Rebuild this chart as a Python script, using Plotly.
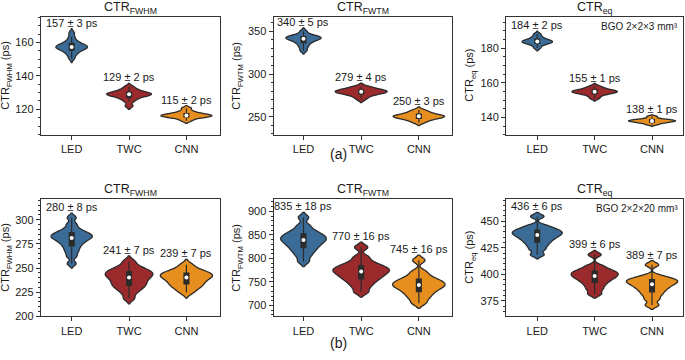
import numpy as np
import plotly.graph_objects as go

categories = ["LED", "TWC", "CNN"]

# ---- (a) BGO 2x2x3 mm3 : per-event CTR estimates (ps), read from violin shapes
fwhm_3mm_led = [150.4, 152.5, 153.8, 154.8, 155.5, 156.1, 156.6, 157.0, 157.3, 157.7, 158.1, 158.6, 159.2, 160.0, 161.2, 163.2, 165.8]
fwhm_3mm_twc = [122.0, 124.8, 126.3, 127.2, 127.9, 128.4, 128.8, 129.1, 129.4, 129.8, 130.3, 131.0, 131.9, 133.5]
fwhm_3mm_cnn = [113.2, 114.6, 115.2, 115.6, 115.9, 116.2, 116.5, 116.8, 117.2, 117.8, 118.8, 120.6]

fwtm_3mm_led = [327.4, 331.5, 334.5, 336.8, 338.5, 339.8, 340.8, 341.6, 342.3, 343.0, 343.8, 344.7, 346.0, 349.9]
fwtm_3mm_twc = [270.6, 273.8, 275.7, 277.0, 277.9, 278.6, 279.2, 279.8, 280.5, 281.3, 282.3, 283.5, 285.4]
fwtm_3mm_cnn = [243.3, 245.8, 247.3, 248.4, 249.2, 249.9, 250.5, 251.1, 251.8, 252.7, 254.0, 255.6, 257.8]

eq_3mm_led = [180.1, 181.6, 182.4, 182.9, 183.3, 183.6, 183.9, 184.2, 184.6, 185.1, 185.8, 186.8, 188.2]
eq_3mm_twc = [151.1, 152.6, 153.5, 154.0, 154.4, 154.7, 155.0, 155.3, 155.7, 156.2, 156.9, 158.0]
eq_3mm_cnn = [135.9, 136.7, 137.2, 137.5, 137.8, 138.0, 138.2, 138.5, 138.8, 139.3, 140.5]

# ---- (b) BGO 2x2x20 mm3
fwhm_20mm_led = [254.6, 262.0, 266.5, 270.0, 273.0, 275.5, 277.5, 279.2, 280.6, 281.8, 282.9, 284.0, 285.2, 286.6, 288.3, 291.0, 295.5, 302.2]
fwhm_20mm_twc = [218.6, 224.5, 228.0, 230.5, 232.5, 234.5, 236.5, 238.5, 240.3, 241.8, 243.2, 244.6, 246.0, 247.5, 249.3, 252.0, 256.9]
fwhm_20mm_cnn = [224.6, 228.5, 231.0, 233.0, 235.0, 237.0, 238.7, 240.2, 241.5, 242.7, 243.9, 245.2, 246.8, 249.0, 253.4]

fwtm_20mm_led = [793.5, 805, 813, 819, 824, 828.5, 832.5, 836, 839, 842, 845, 848, 851.5, 855.5, 861, 870, 887]
fwtm_20mm_twc = [728.7, 740, 748, 754, 759, 763, 767, 770.5, 773.5, 776.5, 779.5, 783, 787, 793, 803, 823.6]
fwtm_20mm_cnn = [705, 715, 722, 728, 733, 737, 740.5, 743.5, 746.5, 749.5, 753, 757, 763, 772, 796]

eq_20mm_led = [418.5, 423.5, 427, 429.8, 432, 434, 435.6, 437, 438.3, 439.5, 440.7, 442, 443.6, 446, 454.6]
eq_20mm_twc = [381.5, 386, 389.5, 392.3, 394.5, 396.3, 397.8, 399.2, 400.5, 401.8, 403.2, 405, 408, 418.5]
eq_20mm_cnn = [371, 376.5, 380.5, 383.5, 386, 388, 389.8, 391.3, 392.6, 393.8, 395, 396.3, 398.5, 409]

# ---- reported mean ± std (ps)
fwhm_3mm_mean = [157, 129, 115]
fwhm_3mm_std = [3, 2, 2]
fwtm_3mm_mean = [340, 279, 250]
fwtm_3mm_std = [5, 4, 3]
eq_3mm_mean = [184, 155, 138]
eq_3mm_std = [2, 1, 1]
fwhm_20mm_mean = [280, 241, 239]
fwhm_20mm_std = [8, 7, 7]
fwtm_20mm_mean = [835, 770, 745]
fwtm_20mm_std = [18, 16, 16]
eq_20mm_mean = [436, 399, 389]
eq_20mm_std = [6, 6, 7]

panel_titles = ["CTR<sub>FWHM</sub>", "CTR<sub>FWTM</sub>", "CTR<sub>eq</sub>"]
y_titles = ["CTR<sub>FWHM</sub> (ps)", "CTR<sub>FWTM</sub> (ps)", "CTR<sub>eq</sub> (ps)"]
crystal_labels = ["BGO 2×2×3 mm³", "BGO 2×2×20 mm³"]
row_labels = ["(a)", "(b)"]

# ---------------- styles / layout (pixels of a 685x360 canvas) ----------------
W, H = 685, 360
colors = ["#3b6c97", "#9b2a2d", "#e68e1e"]
edge = "#2a2a2a"
txt = "#1a1a1a"
FONT = "Liberation Sans, Arial, sans-serif"

col_px = [(40.7, 219.7), (273.5, 452.3), (506.0, 683.3)]
row_px = [(17.0, 137.0), (202.5, 321.7)]
x_ranges = [[-0.54, 2.58], [-0.52, 2.58], [-0.545, 2.545]]
y_ranges = [[104.8, 175.4], [229.0, 367.0], [130.0, 198.2],
            [200.0, 321.3], [677.0, 926.0], [360.4, 470.9]]
y_dticks = [(20, 5), (50, 10), (20, 5), (25, 5), (50, 10), (25, 5)]
ytitle_px = [6, 237, 470]

panels = [
    ([fwhm_3mm_led, fwhm_3mm_twc, fwhm_3mm_cnn], fwhm_3mm_mean, fwhm_3mm_std),
    ([fwtm_3mm_led, fwtm_3mm_twc, fwtm_3mm_cnn], fwtm_3mm_mean, fwtm_3mm_std),
    ([eq_3mm_led, eq_3mm_twc, eq_3mm_cnn], eq_3mm_mean, eq_3mm_std),
    ([fwhm_20mm_led, fwhm_20mm_twc, fwhm_20mm_cnn], fwhm_20mm_mean, fwhm_20mm_std),
    ([fwtm_20mm_led, fwtm_20mm_twc, fwtm_20mm_cnn], fwtm_20mm_mean, fwtm_20mm_std),
    ([eq_20mm_led, eq_20mm_twc, eq_20mm_cnn], eq_20mm_mean, eq_20mm_std),
]
# violin max widths (category units) and kde bandwidths, per panel
v_widths = [[0.55, 0.78, 0.89], [0.61, 0.9, 0.89], [0.53, 0.79, 0.82],
            [0.72, 0.83, 0.91], [0.79, 0.98, 0.91], [0.87, 0.82, 0.89]]
v_bw = [[1.2, 1.0, 0.8], [2.0, 2.0, 1.8], [0.8, 0.8, 0.5],
        [2.3, 2.8, 2.8], [5.5, 5.5, 5.5], [1.9, 2.0, 2.0]]
box_px_units = 0.085

fig = go.Figure()
annotations = []
layout_axes = {}

for p, (samples, means, stds) in enumerate(panels):
    r, c = divmod(p, 3)
    suffix = "" if p == 0 else str(p + 1)
    xa, ya = "x" + suffix, "y" + suffix
    x0, x1 = col_px[c]
    yt, yb = row_px[r]
    xdom = [x0 / W, x1 / W]
    ydom = [1 - yb / H, 1 - yt / H]

    medians = []
    for k, (cat, vals) in enumerate(zip(categories, samples)):
        w = v_widths[p][k]
        fig.add_trace(go.Violin(
            x=[cat] * len(vals), y=vals, xaxis=xa, yaxis=ya,
            width=w, bandwidth=v_bw[p][k], spanmode="soft", scalemode="width",
            fillcolor=colors[k], line=dict(color=edge, width=1.3), opacity=1,
            points=False, showlegend=False, hoverinfo="skip",
            box=dict(visible=True, width=box_px_units / w, fillcolor="#2b2b2b",
                     line=dict(color="#2b2b2b", width=1.2)),
            meanline=dict(visible=False),
        ))
        medians.append(float(np.median(vals)))
        top = max(vals) + 2 * v_bw[p][k]
        annotations.append(dict(
            x=cat, y=top, xref=xa, yref=ya, xanchor="center", yanchor="bottom",
            yshift=-2, showarrow=False,
            text=f"{means[k]} ± {stds[k]} ps",
            font=dict(size=11, color=txt, family=FONT)))
    fig.add_trace(go.Scatter(
        x=categories, y=medians, xaxis=xa, yaxis=ya, mode="markers",
        marker=dict(color="white", size=4), showlegend=False, hoverinfo="skip"))

    axis_common = dict(showline=True, linecolor="#333333", linewidth=1, mirror=True,
                       ticks="outside", ticklen=4, tickwidth=1, tickcolor="#333333",
                       showgrid=False, zeroline=False,
                       tickfont=dict(size=11, color=txt, family=FONT))
    layout_axes["xaxis" + suffix] = dict(
        axis_common, domain=xdom, anchor=ya, type="category",
        categoryorder="array", categoryarray=categories, range=x_ranges[c])
    dt, mdt = y_dticks[p]
    layout_axes["yaxis" + suffix] = dict(
        axis_common, domain=ydom, anchor=xa, range=y_ranges[p], dtick=dt,
        minor=dict(dtick=mdt, ticks="outside", ticklen=2, tickcolor="#333333", showgrid=False))

    # panel title
    annotations.append(dict(
        x=(xdom[0] + xdom[1]) / 2, y=ydom[1], xref="paper", yref="paper",
        xanchor="center", yanchor="bottom", yshift=-1, showarrow=False,
        text=panel_titles[c], font=dict(size=12.5, color=txt, family=FONT)))
    # y-axis title
    annotations.append(dict(
        x=ytitle_px[c] / W, y=(ydom[0] + ydom[1]) / 2, xref="paper", yref="paper",
        xanchor="center", yanchor="middle", textangle=-90, showarrow=False,
        text=y_titles[c], font=dict(size=11, color=txt, family=FONT)))
    if c == 2:
        annotations.append(dict(
            x=xdom[1], y=ydom[1], xref="paper", yref="paper",
            xanchor="right", yanchor="top", xshift=-3, yshift=-2, showarrow=False,
            text=crystal_labels[r], font=dict(size=10, color=txt, family=FONT)))

annotations.append(dict(x=338 / W, y=1 - 157 / H, xref="paper", yref="paper",
                        xanchor="center", yanchor="middle", showarrow=False,
                        text=row_labels[0], font=dict(size=14, color=txt, family=FONT)))
annotations.append(dict(x=338 / W, y=1 - 349 / H, xref="paper", yref="paper",
                        xanchor="center", yanchor="middle", showarrow=False,
                        text=row_labels[1], font=dict(size=14, color=txt, family=FONT)))

fig.update_layout(
    width=W, height=H, margin=dict(l=0, r=0, t=0, b=0),
    paper_bgcolor="white", plot_bgcolor="white",
    violinmode="overlay", showlegend=False,
    font=dict(family=FONT, color=txt),
    annotations=annotations, **layout_axes)

fig.write_html("out.html", config={"displayModeBar": False, "staticPlot": True},
               post_script="document.body.style.margin='0';document.body.style.overflow='hidden';")
